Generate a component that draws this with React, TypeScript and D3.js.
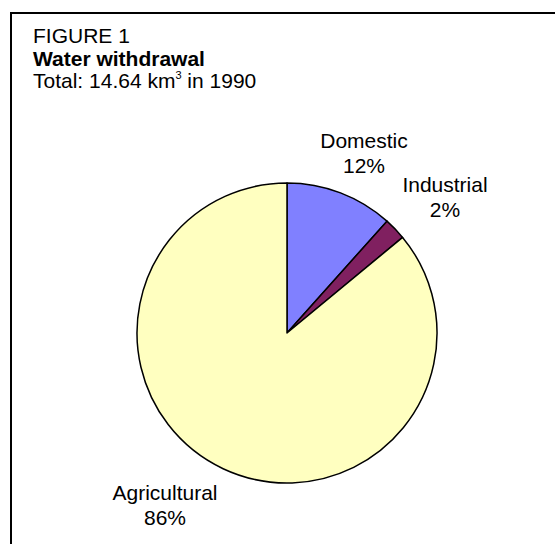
import React from "react";
import * as d3 from "d3";

const categories = ["Domestic", "Industrial", "Agricultural"];
const values = [1.7, 0.35, 12.59];
const colors = ["#8080FF", "#802060", "#FFFFC0"];

// label anchors (layout): [x, baseline of first line]
const labelAnchors: [number, number][] = [
  [364, 148],
  [445, 192],
  [165, 500],
];

const W = 555;
const H = 544;
const cx = 287;
const cy = 333;
const R = 150;
const FONT = "Arial, 'Liberation Sans', Helvetica, sans-serif";

export default function App() {
  const total = d3.sum(values);
  const pie = d3
    .pie<number>()
    .sort(null)
    .value((d) => d)
    .startAngle(0)
    .endAngle(2 * Math.PI);
  const arcs = pie(values);
  const arcGen = d3.arc<d3.PieArcDatum<number>>().innerRadius(0).outerRadius(R);
  const fmt = d3.format(".0%");

  return (
    <svg
      width={W}
      height={H}
      style={{ position: "absolute", left: 0, top: 0, background: "#fff" }}
      fontFamily={FONT}
    >
      <rect x={0} y={0} width={W} height={H} fill="#fff" />
      <path d={`M11,${H} V13 H${W}`} fill="none" stroke="#000" strokeWidth={2} />
      <text x={33} y={43} fontSize={21} fill="#000">
        FIGURE 1
      </text>
      <text x={33} y={65.5} fontSize={21} fontWeight="bold" fill="#000">
        Water withdrawal
      </text>
      <text x={33} y={88} fontSize={21} fill="#000">
        Total: 14.64 km
        <tspan fontSize={11} dy={-9}>3</tspan>
        <tspan dy={9}> in 1990</tspan>
      </text>
      <g transform={`translate(${cx},${cy})`}>
        {arcs.map((a, i) => (
          <path
            key={categories[i]}
            d={arcGen(a) || ""}
            fill={colors[i]}
            stroke="#000"
            strokeWidth={1.5}
            strokeLinejoin="round"
          />
        ))}
      </g>
      {categories.map((c, i) => (
        <text
          key={c}
          x={labelAnchors[i][0]}
          y={labelAnchors[i][1]}
          fontSize={21}
          textAnchor="middle"
          fill="#000"
        >
          <tspan x={labelAnchors[i][0]}>{c}</tspan>
          <tspan x={labelAnchors[i][0]} dy={25}>
            {fmt(values[i] / total)}
          </tspan>
        </text>
      ))}
    </svg>
  );
}
